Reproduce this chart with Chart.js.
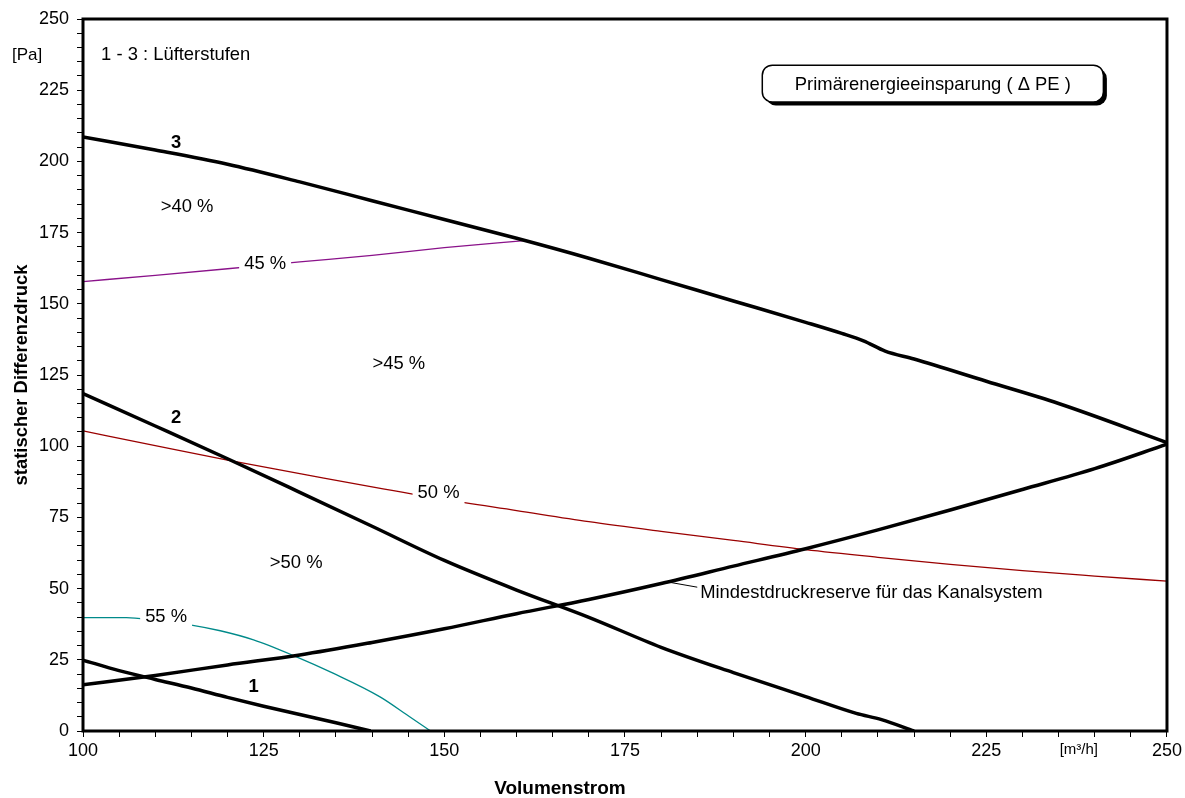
<!DOCTYPE html>
<html>
<head>
<meta charset="utf-8">
<script src="https://cdn.jsdelivr.net/npm/chart.js@4"></script>
<style>
  html, body { margin: 0; padding: 0; background: #fff; }
</style>
</head>
<body>
<canvas id="chart" width="1185" height="798"></canvas>
<script>
// Lüfterstufen (fan levels) 1-3
const stufe1X = [100, 105, 110, 115, 120, 125, 130, 135, 139.8];
const stufe1Y = [24.9, 21.2, 18.1, 15.1, 11.8, 8.7, 5.8, 2.9, 0];

const stufe2X = [100, 110, 120, 130, 140, 150, 160, 170, 180, 190, 200, 207, 210.5, 215];
const stufe2Y = [118.5, 107.1, 95.6, 83.8, 71.9, 59.9, 49.5, 39.9, 29.4, 20.5, 12.1, 6.2, 4.0, 0];

const stufe3X = [100, 110, 120, 130, 140, 150, 160, 170, 180, 190, 200, 205, 208, 211, 215, 225, 235, 250];
const stufe3Y = [208.6, 204.0, 199.0, 192.8, 186.2, 179.6, 173.0, 166.0, 158.5, 151.0, 143.5, 139.6, 137.0, 133.4, 130.6, 122.8, 115.0, 101.3];

// Mindestdruckreserve
const reserveX = [100, 110, 120, 130, 140, 150, 160, 170, 180, 190, 200, 210, 220, 230, 240, 250];
const reserveY = [16.2, 19.5, 23.2, 26.7, 31.1, 35.9, 41.2, 46.2, 51.8, 57.9, 64.0, 70.6, 77.6, 84.8, 92.1, 100.7];

// Primärenergieeinsparung iso-lines
const pe45X = [100, 110, 120, 130, 140, 150, 161.1];
const pe45Y = [157.8, 160.0, 162.3, 164.7, 167.0, 169.7, 172.2];

const pe50X = [100, 110, 120, 130, 140, 150, 160, 170, 180, 190, 200, 210, 220, 230, 240, 250];
const pe50Y = [105.4, 100.2, 95.1, 90.4, 85.7, 81.3, 77.4, 73.5, 70.1, 66.9, 63.7, 61.0, 58.5, 56.3, 54.4, 52.6];

const pe55X = [100, 106, 110, 115, 119, 123.6, 129.3, 134.6, 141.1, 145.2, 148.1];
const pe55Y = [39.8, 39.8, 38.8, 37.2, 35.2, 32.0, 26.3, 20.3, 12.0, 5.0, 0];

const xTickLabels = [100, 125, 150, 175, 200, 225, 250];
const yTickLabels = [0, 25, 50, 75, 100, 125, 150, 175, 200, 225, 250];

const FONT = '"Liberation Sans", Arial, sans-serif';
const SIZE = 18.4;

function pts(xs, ys) {
    return xs.map((x, i) => ({ x: x, y: ys[i] }));
}

function curve(label, xs, ys, color, width) {
    return {
        label: label,
        data: pts(xs, ys),
        borderColor: color,
        borderWidth: width,
        pointRadius: 0,
        fill: false,
        cubicInterpolationMode: 'monotone'
    };
}

const annotations = {
    id: 'annotations',
    afterDatasetsDraw(chart) {
        const { ctx, chartArea: a, scales: { x, y } } = chart;
        ctx.save();

        // frame round the plot
        ctx.strokeStyle = '#000';
        ctx.lineWidth = 3;
        ctx.strokeRect(a.left, a.top, a.right - a.left, a.bottom - a.top);

        const text = (str, xv, yv, opts = {}) => {
            ctx.font = (opts.bold ? 'bold ' : '') + (opts.size || SIZE) + 'px ' + FONT;
            ctx.fillStyle = '#000';
            ctx.textAlign = opts.align || 'center';
            ctx.textBaseline = 'middle';
            ctx.fillText(str, typeof xv === 'number' ? x.getPixelForValue(xv) : xv.px,
                typeof yv === 'number' ? y.getPixelForValue(yv) : yv.px);
        };

        // labels sitting on the iso-lines, with the line cut behind them
        const lineLabel = (str, xv, yv) => {
            const px = x.getPixelForValue(xv), py = y.getPixelForValue(yv);
            ctx.font = SIZE + 'px ' + FONT;
            const w = ctx.measureText(str).width;
            ctx.fillStyle = '#fff';
            ctx.fillRect(px - w / 2 - 5, py - 11, w + 10, 22);
            text(str, xv, yv);
        };
        lineLabel('45 %', 125.2, 164.0);
        lineLabel('50 %', 149.2, 83.5);
        lineLabel('55 %', 111.5, 40.0);

        text('3', 112.9, 206.6, { bold: true });
        text('2', 112.9, 109.8, { bold: true });
        text('1', 123.6, 15.6, { bold: true });

        text('>40 %', 114.4, 184.1);
        text('>45 %', 143.7, 128.9);
        text('>50 %', 129.5, 59.0);

        text('1 - 3 : Lüfterstufen', 102.5, 237.3, { align: 'left' });
        text('[Pa]', { px: 12 }, 237.3, { align: 'left', size: 17 });
        text('[m³/h]', 237.8, { px: 750 }, { size: 15 });

        // leader to the Mindestdruckreserve curve
        ctx.strokeStyle = '#000';
        ctx.lineWidth = 1;
        ctx.beginPath();
        ctx.moveTo(x.getPixelForValue(181.2), y.getPixelForValue(52.2));
        ctx.lineTo(x.getPixelForValue(185.0), y.getPixelForValue(50.5));
        ctx.stroke();
        text('Mindestdruckreserve für das Kanalsystem', 185.4, 48.6, { align: 'left' });

        // boxed legend title with shadow
        const bl = x.getPixelForValue(194.0), br = x.getPixelForValue(241.2);
        const bt = y.getPixelForValue(233.8), bb = y.getPixelForValue(220.9);
        ctx.fillStyle = '#000';
        ctx.beginPath();
        ctx.roundRect(bl + 3.5, bt + 3.5, br - bl, bb - bt, 10);
        ctx.fill();
        ctx.fillStyle = '#fff';
        ctx.beginPath();
        ctx.roundRect(bl, bt, br - bl, bb - bt, 10);
        ctx.fill();
        ctx.lineWidth = 1.5;
        ctx.stroke();
        text('Primärenergieeinsparung ( Δ PE )', { px: (bl + br) / 2 }, { px: (bt + bb) / 2 + 1 });

        // axis titles
        ctx.save();
        ctx.translate(22, (a.top + a.bottom) / 2);
        ctx.rotate(-Math.PI / 2);
        ctx.font = 'bold ' + SIZE + 'px ' + FONT;
        ctx.fillStyle = '#000';
        ctx.textAlign = 'center';
        ctx.textBaseline = 'middle';
        ctx.fillText('statischer Differenzdruck', 0, 0);
        ctx.restore();
        text('Volumenstrom', 166, { px: 789 }, { bold: true, size: 19 });

        ctx.restore();
    }
};

new Chart(document.getElementById('chart'), {
    type: 'line',
    data: {
        datasets: [
            curve('Stufe 1', stufe1X, stufe1Y, '#000', 3.5),
            curve('Stufe 2', stufe2X, stufe2Y, '#000', 3.5),
            curve('Stufe 3', stufe3X, stufe3Y, '#000', 3.5),
            curve('Mindestdruckreserve', reserveX, reserveY, '#000', 3.5),
            curve('45 %', pe45X, pe45Y, '#8a128a', 1.3),
            curve('50 %', pe50X, pe50Y, '#9a0000', 1.3),
            curve('55 %', pe55X, pe55Y, '#008a8a', 1.3)
        ]
    },
    options: {
        responsive: false,
        animation: false,
        layout: { padding: { left: 0, right: 17, top: 19, bottom: 0 } },
        plugins: { legend: { display: false }, tooltip: { enabled: false } },
        scales: {
            x: {
                type: 'linear',
                min: 100,
                max: 250,
                afterFit: s => { s.height = 67; },
                border: { display: false },
                grid: { drawOnChartArea: false, drawTicks: true, tickLength: 6, color: '#000' },
                ticks: {
                    stepSize: 5,
                    autoSkip: false,
                    maxRotation: 0,
                    padding: 3,
                    color: '#000',
                    font: { family: FONT, size: 18 },
                    callback: v => xTickLabels.includes(v) ? String(v) : ''
                }
            },
            y: {
                min: 0,
                max: 250,
                afterFit: s => { s.width = 83; },
                border: { display: false },
                grid: { drawOnChartArea: false, drawTicks: true, tickLength: 6, color: '#000' },
                ticks: {
                    stepSize: 5,
                    autoSkip: false,
                    padding: 8,
                    color: '#000',
                    font: { family: FONT, size: 18 },
                    callback: v => yTickLabels.includes(v) ? String(v) : ''
                }
            }
        }
    },
    plugins: [annotations]
});
</script>
</body>
</html>
